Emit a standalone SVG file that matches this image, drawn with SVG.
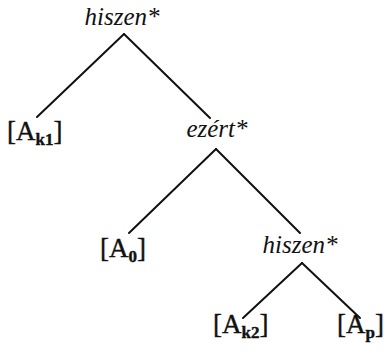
<svg xmlns="http://www.w3.org/2000/svg" width="384" height="351" viewBox="0 0 384 351">
<style>
.op{font-family:"Liberation Serif","DejaVu Serif",serif;font-style:italic;font-size:25px;fill:#111;text-anchor:middle}
.lf{font-family:"Liberation Serif","DejaVu Serif",serif;font-size:27px;fill:#111;stroke:#111;stroke-width:0.4}
.sb{font-size:17px;font-weight:bold}
.e{stroke:#111;stroke-width:2;fill:none;stroke-linecap:round}
</style>
<rect width="384" height="351" fill="#fff"/>
<g id="connectors">
<line class="e" x1="124" y1="34" x2="37" y2="117"/>
<line class="e" x1="124" y1="34" x2="210" y2="118"/>
<line class="e" x1="216" y1="149" x2="129" y2="233"/>
<line class="e" x1="216" y1="149" x2="300" y2="233"/>
<line class="e" x1="302" y1="263" x2="243" y2="318"/>
<line class="e" x1="302" y1="263" x2="360" y2="318"/>
</g>
<g id="n1"><text class="op" x="122" y="25">hiszen*</text></g>
<g id="n2"><text class="lf" x="7" y="140">[A<tspan class="sb" dy="5">k1</tspan><tspan dy="-5">]</tspan></text></g>
<g id="n3"><text class="op" x="217" y="137">ezért*</text></g>
<g id="n4"><text class="lf" x="100" y="257">[A<tspan class="sb" dy="5">0</tspan><tspan dy="-5">]</tspan></text></g>
<g id="n5"><text class="op" x="300" y="253">hiszen*</text></g>
<g id="n6"><text class="lf" x="213" y="333">[A<tspan class="sb" dy="5">k2</tspan><tspan dy="-5">]</tspan></text></g>
<g id="n7"><text class="lf" x="337" y="333">[A<tspan class="sb" dy="5">p</tspan><tspan dy="-5">]</tspan></text></g>
</svg>
